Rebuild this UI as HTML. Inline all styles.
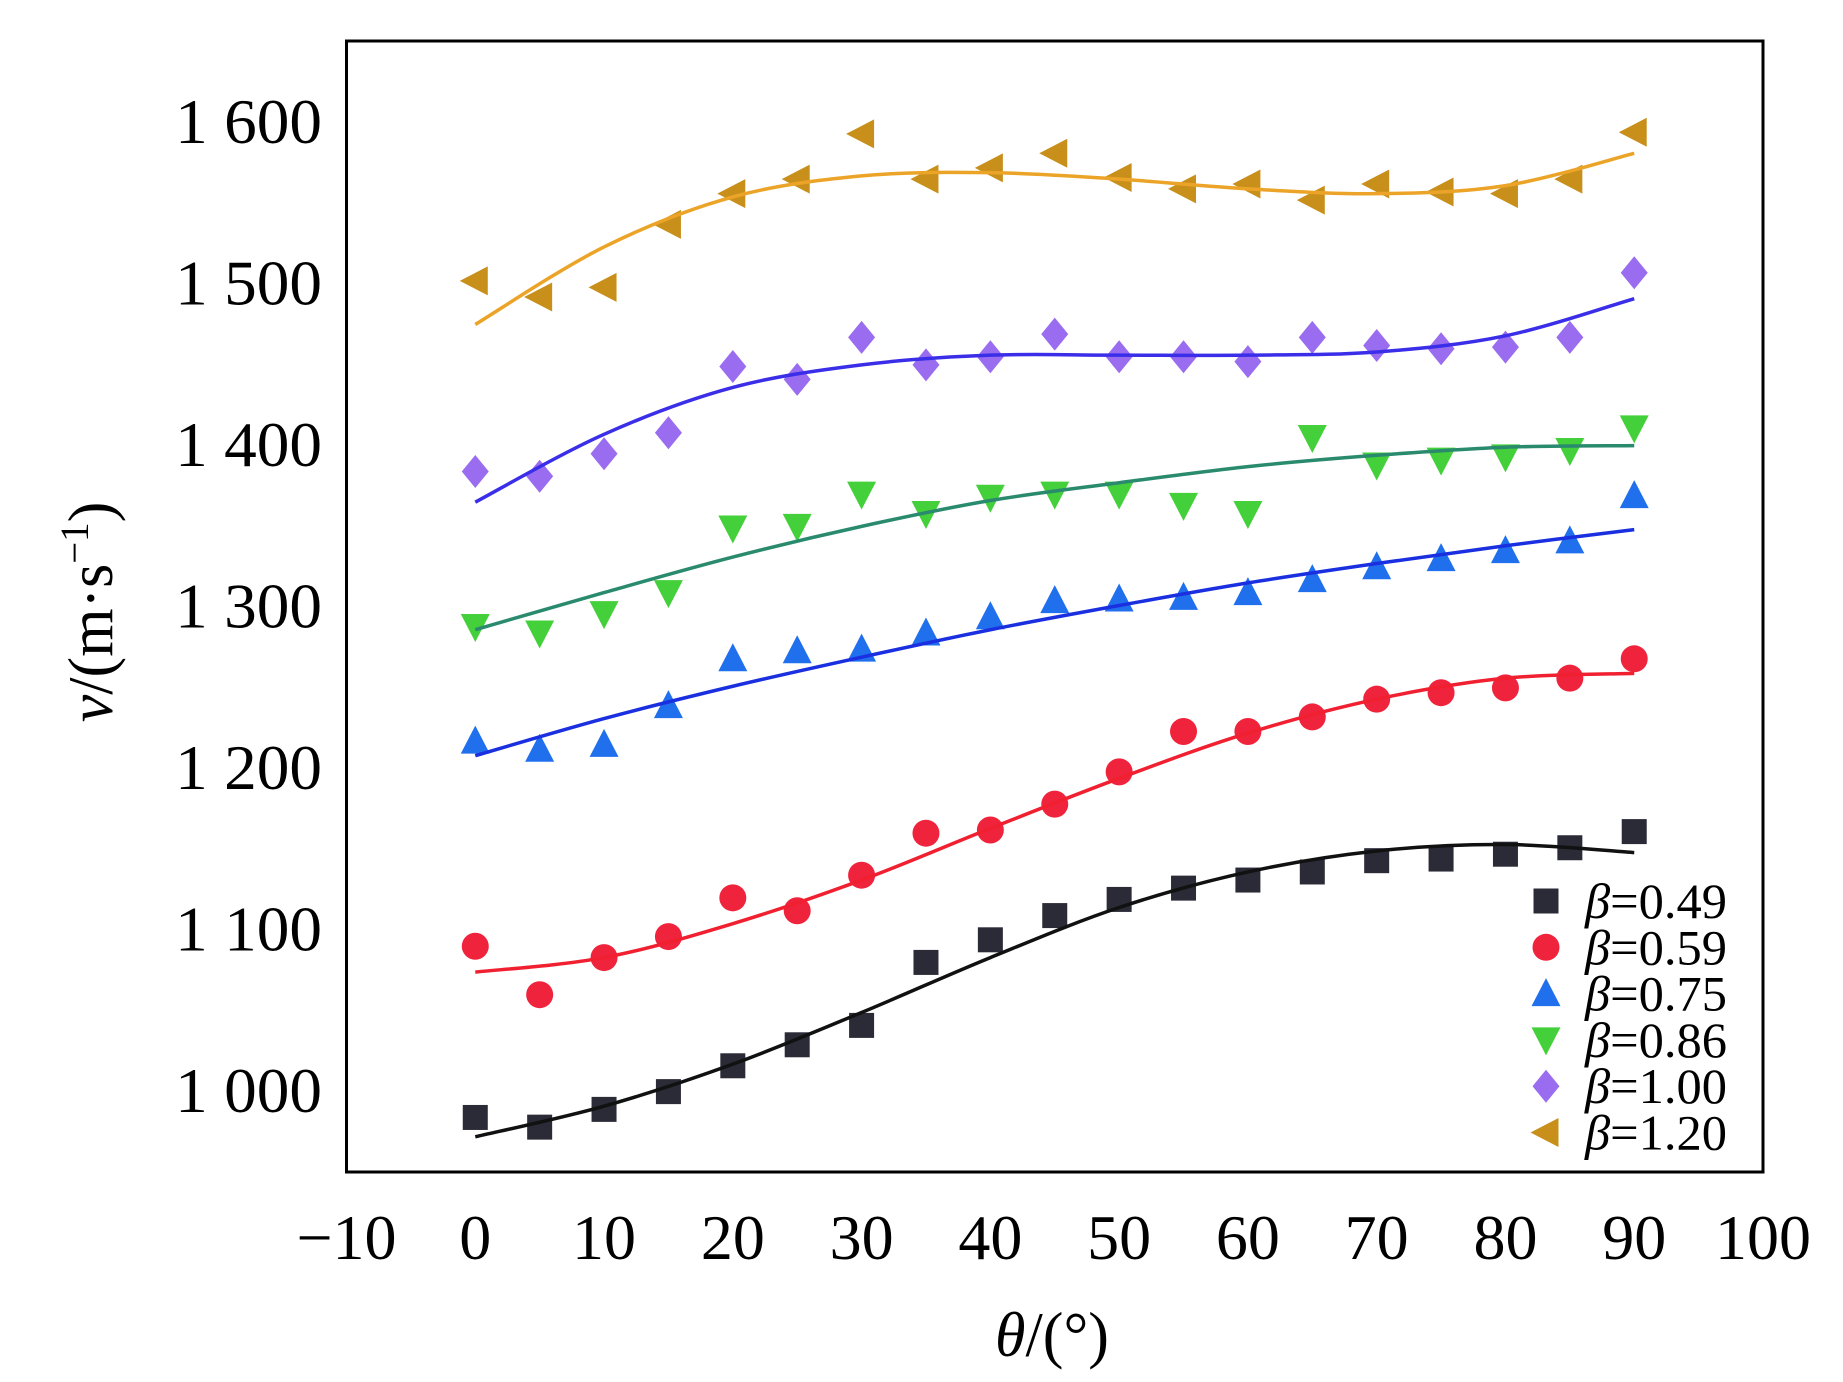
<!DOCTYPE html>
<html><head><meta charset="utf-8"><style>
html,body{margin:0;padding:0;background:#fff;}
svg{display:block;font-family:"Liberation Serif",serif;}
</style></head><body>
<svg id="chart" width="1843" height="1382" viewBox="0 0 1843 1382">
<rect x="346.5" y="41" width="1416.5" height="1131" fill="none" stroke="#000" stroke-width="3"/>
<g id="series"></g>
<g id="xt"></g><g id="yt"></g><g id="legend"></g>
<g transform="translate(112 612) rotate(-90) scale(0.97 1)">
<text x="0" y="0" font-size="64" text-anchor="middle"><tspan font-style="italic">v</tspan>/(m·s<tspan dy="-24" font-size="40">−1</tspan><tspan dy="24">)</tspan></text></g>
<g transform="translate(1052 1356) scale(0.97 1)">
<text x="0" y="0" font-size="64" text-anchor="middle"><tspan font-style="italic">θ</tspan>/(°)</text></g>
</svg>
<script>
const angles=[0,5,10,15,20,25,30,35,40,45,50,55,60,65,70,75,80,85,90];
const fitAngles=[0,10,20,30,40,50,60,70,80,90];
const labels=["β=0.49","β=0.59","β=0.75","β=0.86","β=1.00","β=1.20"];
const v049=[983,977,988,999,1015,1028,1040,1079,1093,1108,1118,1125,1130,1135,1142,1143,1146,1150,1160];
const v059=[1089,1059,1082,1095,1119,1111,1133,1159,1161,1177,1197,1222,1222,1231,1242,1246,1249,1255,1267];
const v075=[1216,1211,1214,1238,1267,1272,1273,1283,1293,1303,1304,1305,1308,1316,1324,1329,1334,1340,1368];
const v086=[1287,1283,1295,1308,1348,1349,1369,1357,1367,1369,1369,1362,1357,1404,1387,1390,1392,1396,1410];
const v100=[1383,1380,1394,1407,1448,1440,1466,1449,1454,1468,1454,1454,1451,1466,1461,1459,1460,1466,1506];
const v120=[1501,1491,1497,1536,1555,1564,1592,1564,1571,1580,1565,1558,1561,1551,1561,1556,1555,1564,1593];
const f049=[971,990,1016,1048,1082,1113,1135,1148,1152,1147];
const f059=[1073,1082,1103,1130,1162,1193,1221,1242,1255,1258];
const f075=[1207,1230,1250,1268,1285,1300,1314,1326,1337,1347];
const f086=[1285,1308,1330,1349,1365,1376,1386,1393,1398,1399];
const f100=[1364,1406,1435,1449,1455,1455,1455,1457,1467,1490];
const f120=[1474,1522,1553,1566,1568,1564,1558,1555,1560,1580];
const xTicks=[-10,0,10,20,30,40,50,60,70,80,90,100];
const yTicks=[1000,1100,1200,1300,1400,1500,1600];

const X=v=>346.5+(v+10)/110*1416.5;
const Y=v=>1090-(v-1000)*1.615;
const NS="http://www.w3.org/2000/svg";
function mk(tag,attrs,parent){const e=document.createElementNS(NS,tag);for(const k in attrs)e.setAttribute(k,attrs[k]);parent.appendChild(e);return e;}

const series=[
 {d:v049,f:f049,mc:"#2b2b38",lc:"#111",m:"square"},
 {d:v059,f:f059,mc:"#f0233c",lc:"#f02030",m:"circle"},
 {d:v075,f:f075,mc:"#2070ee",lc:"#1a30e0",m:"up"},
 {d:v086,f:f086,mc:"#44d03a",lc:"#2a8a6e",m:"down"},
 {d:v100,f:f100,mc:"#9a6cf0",lc:"#3a2ee8",m:"diamond"},
 {d:v120,f:f120,mc:"#c8901a",lc:"#eca428",m:"left"}
];
function marker(type,cx,cy,color,parent){
 const s=13.5;let e;
 if(type==="square")e=mk("rect",{x:cx-s+1,y:cy-s+1,width:2*s-2,height:2*s-2,fill:color},parent);
 else if(type==="circle")e=mk("circle",{cx:cx,cy:cy,r:s,fill:color},parent);
 else{let p;
  if(type==="up")p=[[cx,cy-s-2],[cx+s+1,cy+s-1],[cx-s-1,cy+s-1]];
  if(type==="down")p=[[cx,cy+s+2],[cx+s+1,cy-s+1],[cx-s-1,cy-s+1]];
  if(type==="diamond")p=[[cx,cy-s-3],[cx+s,cy],[cx,cy+s+3],[cx-s,cy]];
  if(type==="left")p=[[cx-s-2,cy],[cx+s-1,cy-s-1],[cx+s-1,cy+s+1]];
  e=mk("polygon",{points:p.map(a=>a.join(",")).join(" "),fill:color},parent);}
 return e;
}
function smooth(pts){let d="M"+pts[0][0]+","+pts[0][1];
 for(let i=0;i<pts.length-1;i++){const p0=pts[i-1]||pts[i],p1=pts[i],p2=pts[i+1],p3=pts[i+2]||p2;
  d+=" C"+(p1[0]+(p2[0]-p0[0])/6)+","+(p1[1]+(p2[1]-p0[1])/6)+" "+(p2[0]-(p3[0]-p1[0])/6)+","+(p2[1]-(p3[1]-p1[1])/6)+" "+p2[0]+","+p2[1];}
 return d;}
const sg=document.getElementById("series");
series.forEach((s,i)=>{
 const g=mk("g",{},sg);
 
 
 s.d.forEach((v,j)=>{const e=marker(s.m,X(angles[j]),Y(v),s.mc,g);
  
  });
 const p=mk("path",{d:smooth(s.f.map((v,j)=>[X(fitAngles[j]),Y(v)])),fill:"none",stroke:s.lc,"stroke-width":3.5},g);
 
 
});
const xt=document.getElementById("xt");
xTicks.forEach(t=>{const g=mk("g",{transform:"translate("+X(t)+" 1259) scale(1 1)"},xt);
 const e=mk("text",{x:0,y:0,"font-size":64,"text-anchor":"middle"},g);
 e.textContent=t<0?"−"+(-t):String(t);
 
 });
const yt=document.getElementById("yt");
yTicks.forEach(t=>{const g=mk("g",{transform:"translate(322 "+(Y(t)+22)+") scale(1.02 1)"},yt);
 const e=mk("text",{x:0,y:0,"font-size":64,"text-anchor":"end"},g);
 e.textContent=String(t).replace(/^(\d)(\d{3})$/,"$1 $2");
 
 });
const lg=document.getElementById("legend");
labels.forEach((l,i)=>{const y=901+i*46.3;
 const g=mk("g",{},lg);
 
 
 marker(series[i].m,1546,y,series[i].mc,g);
 const tg=mk("g",{transform:"translate(1585 "+(y+17)+") scale(1.01 1)"},g);
 const t=mk("text",{x:0,y:0,"font-size":50},tg);
 t.innerHTML='<tspan font-style="italic">β</tspan>='+l.slice(2);});
</script>
</body></html>
